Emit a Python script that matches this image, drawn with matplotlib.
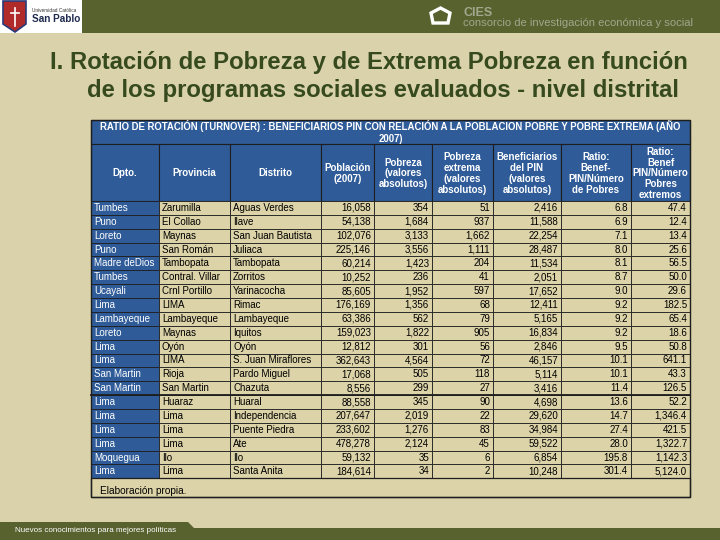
import matplotlib
matplotlib.use("Agg")
import matplotlib.pyplot as plt
from matplotlib.patches import Rectangle, Polygon

plt.rcParams['font.family'] = ['Liberation Sans', 'DejaVu Sans']

# --- table data ---
dpto = ["Tumbes", "Puno", "Loreto", "Puno", "Madre deDios", "Tumbes", "Ucayali", "Lima",
        "Lambayeque", "Loreto", "Lima", "Lima", "San Martin", "San Martin", "Lima", "Lima",
        "Lima", "Lima", "Moquegua", "Lima"]
provincia = ["Zarumilla", "El Collao", "Maynas", "San Román", "Tambopata", "Contral. Villar",
             "Crnl Portillo", "LIMA", "Lambayeque", "Maynas", "Oyón", "LIMA", "Rioja",
             "San Martin", "Huaraz", "Lima", "Lima", "Lima", "Ilo", "Lima"]
distrito = ["Aguas Verdes", "Ilave", "San Juan Bautista", "Juliaca", "Tambopata", "Zorritos",
            "Yarinacocha", "Rimac", "Lambayeque", "Iquitos", "Oyón", "S. Juan Miraflores",
            "Pardo Miguel", "Chazuta", "Huaral", "Independencia", "Puente Piedra", "Ate",
            "Ilo", "Santa Anita"]
poblacion = [16058, 54138, 102076, 225146, 60214, 10252, 85605, 176169, 63386, 159023,
             12812, 362643, 17068, 8556, 88558, 207647, 233602, 478278, 59132, 184614]
pobreza = [354, 1684, 3133, 3556, 1423, 236, 1952, 1356, 562, 1822,
           301, 4564, 505, 299, 345, 2019, 1276, 2124, 35, 34]
pobreza_ext = [51, 937, 1662, 1111, 204, 41, 597, 68, 79, 905,
               56, 72, 118, 27, 90, 22, 83, 45, 6, 2]
benef_pin = [2416, 11588, 22254, 28487, 11534, 2051, 17652, 12411, 5165, 16834,
             2846, 46157, 5114, 3416, 4698, 29620, 34984, 59522, 6854, 10248]
ratio_pobres = [6.8, 6.9, 7.1, 8.0, 8.1, 8.7, 9.0, 9.2, 9.2, 9.2,
                9.5, 10.1, 10.1, 11.4, 13.6, 14.7, 27.4, 28.0, 195.8, 301.4]
ratio_extremos = [47.4, 12.4, 13.4, 25.6, 56.5, 50.0, 29.6, 182.5, 65.4, 18.6,
                  50.8, 641.1, 43.3, 126.5, 52.2, 1346.4, 421.5, 1322.7, 1142.3, 5124.0]

headers = ["Dpto.", "Provincia", "Distrito", "Población\n(2007)",
           "Pobreza\n(valores\nabsolutos)", "Pobreza\nextrema\n(valores\nabsolutos)",
           "Beneficiarios\ndel PIN\n(valores\nabsolutos)", "Ratio:\nBenef-\nPIN/Número\nde Pobres",
           "Ratio:\nBenef\nPIN/Número\nPobres\nextremos"]
table_title = ("RATIO DE ROTACIÓN (TURNOVER) : BENEFICIARIOS PIN CON RELACIÓN A LA POBLACION POBRE Y POBRE EXTREMA (AÑO\n"
               "2007)")
slide_title = ["I. Rotación de Pobreza y de Extrema Pobreza en función",
               "de los programas sociales evaluados - nivel distrital"]

# --- colours ---
bg = "#d9d2aa"
olive = "#57622e"
blue = "#2f5c99"
cell = "#dcd3a8"
title_green = "#364a1e"
logo_grey = "#a2a68c"

fig = plt.figure(figsize=(7.2, 5.4), dpi=100)
fig.patch.set_facecolor(bg)
ax = fig.add_axes([0, 0, 1, 1])
ax.set_xlim(0, 720)
ax.set_ylim(540, 0)
ax.axis("off")

# top band and logos
ax.add_patch(Rectangle((0, 0), 720, 33, facecolor=olive, edgecolor="none"))
ax.add_patch(Rectangle((0, 0), 82, 33, facecolor="white", edgecolor="none"))
ax.add_patch(Polygon([(3, 1), (26, 1), (26, 24), (15, 32), (3, 24)], closed=True,
                     facecolor="#b02a2a", edgecolor="#283a7a", lw=1.2))
ax.plot([15, 15], [8, 26], color="white", lw=1.2)
ax.plot([11, 19], [13, 13], color="white", lw=1.2)
ax.text(32, 11, "Universidad Católica", fontsize=3.4, color="#333333", va="center")
ax.text(32, 19.5, "San Pablo", fontsize=7.2, fontweight="bold", color="#1e2a4e", va="center")
ax.add_patch(Polygon([(431, 13), (440.5, 8), (450, 13), (448, 23), (433, 23)], closed=True,
                     facecolor="none", edgecolor="white", lw=2.4))
ax.text(463, 12.5, "CIES", fontsize=9, fontweight="bold", color=logo_grey, va="center")
ax.text(463, 23.5, "consorcio de investigación económica y social", fontsize=8.1,
        color=logo_grey, va="center")

# bottom band
ax.add_patch(Polygon([(0, 522), (188, 522), (194, 528), (720, 528), (720, 540), (0, 540)],
                     closed=True, facecolor=olive, edgecolor="none"))
ax.text(15, 531, "Nuevos conocimientos para mejores políticas", fontsize=5.8,
        color="white", va="center")

# slide title
ax.text(50, 62, slide_title[0], fontsize=17.2, fontweight="bold", color=title_green, va="center")
ax.text(87, 91, slide_title[1], fontsize=17.2, fontweight="bold", color=title_green, va="center")

# table geometry
edges = [91, 159, 230, 321, 374, 432, 493, 561, 631, 690]
top, title_bot, head_bot = 120, 144, 201
row_h = (478.3 - head_bot) / len(dpto)
line_c = "#1e1e1e"

ax.add_patch(Rectangle((edges[0], top), edges[-1] - edges[0], title_bot - top,
                       facecolor=blue, edgecolor=line_c, lw=0.8))
ax.text((edges[0] + edges[-1]) / 2, (top + title_bot) / 2, table_title, ha="center",
        va="center", fontsize=6.9, fontweight="bold", color="white", linespacing=1.25)

for j, h in enumerate(headers):
    ax.add_patch(Rectangle((edges[j], title_bot), edges[j + 1] - edges[j], head_bot - title_bot,
                           facecolor=blue, edgecolor=line_c, lw=0.8))
    ax.text((edges[j] + edges[j + 1]) / 2, (title_bot + head_bot) / 2 + 1, h, ha="center",
            va="center", fontsize=7.0, fontweight="bold", color="white", linespacing=1.12)

for i in range(len(dpto)):
    y0 = head_bot + i * row_h
    row = [dpto[i], provincia[i], distrito[i], f"{poblacion[i]:,}", f"{pobreza[i]:,}",
           f"{pobreza_ext[i]:,}", f"{benef_pin[i]:,}", f"{ratio_pobres[i]:,.1f}",
           f"{ratio_extremos[i]:,.1f}"]
    for j, val in enumerate(row):
        fc = blue if j == 0 else cell
        tc = "white" if j == 0 else "black"
        ax.add_patch(Rectangle((edges[j], y0), edges[j + 1] - edges[j], row_h,
                               facecolor=fc, edgecolor=line_c, lw=0.6))
        if j < 3:
            ax.text(edges[j] + 3, y0 + row_h / 2, val, ha="left", va="center",
                    fontsize=7.0, color=tc)
        else:
            ax.text(edges[j + 1] - 3, y0 + row_h / 2, val, ha="right", va="center",
                    fontsize=7.0, color=tc)

# heavier separator between the groups
sep_y = head_bot + 14 * row_h
ax.plot([edges[0], edges[-1]], [sep_y, sep_y], color=line_c, lw=1.3)

# footer
foot_top = head_bot + len(dpto) * row_h
ax.add_patch(Rectangle((edges[0], foot_top), edges[-1] - edges[0], 497 - foot_top,
                       facecolor=cell, edgecolor=line_c, lw=0.9))
ax.text(100, 491, "Elaboración propia.", fontsize=7.3, color="black", va="center")

# outer frame
ax.add_patch(Rectangle((edges[0], top), edges[-1] - edges[0], 497 - top,
                       facecolor="none", edgecolor=line_c, lw=1.0))

fig.savefig("out.png", dpi=100, facecolor=fig.get_facecolor())
